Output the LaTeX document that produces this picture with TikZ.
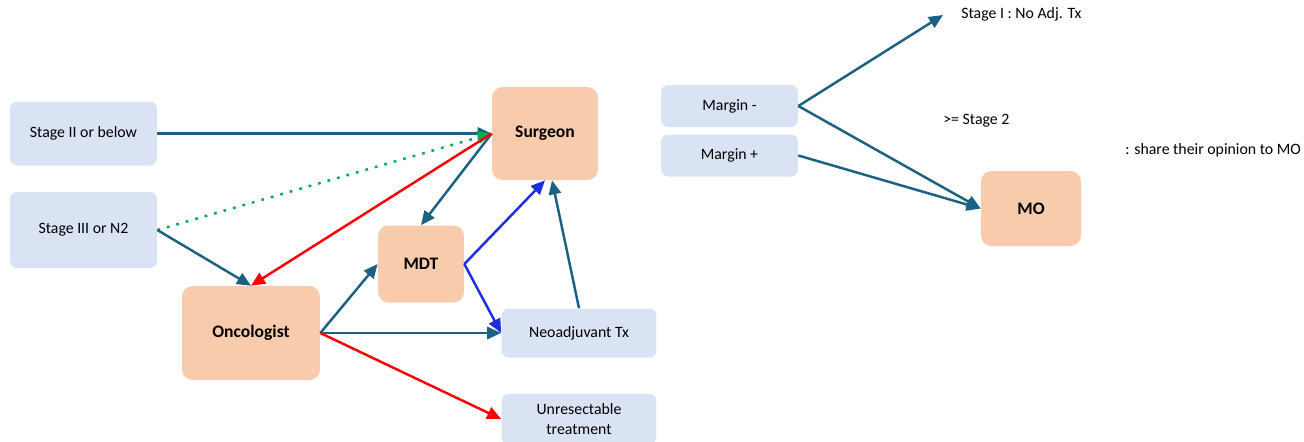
\documentclass[tikz,border=0pt]{standalone}
\usepackage{fontspec}
\setmainfont{Carlito}
\usepackage{tikz}
\usetikzlibrary{arrows.meta, positioning}
\definecolor{tealline}{HTML}{1B6183}
\definecolor{paleblue}{HTML}{DAE3F3}
\definecolor{peach}{HTML}{F8CBAD}
\definecolor{okgreen}{HTML}{00B050}
\definecolor{mdtblue}{HTML}{1C2FE0}
\tikzstyle{line} = [draw, -{Triangle[length=8pt,width=7pt]}, line width=1.4pt]
\tikzstyle{stage} = [rectangle, fill=paleblue, rounded corners=4pt,
  text centered, minimum width=2.94cm, minimum height=1.28cm, inner sep=2pt]
\tikzstyle{doctor} = [rectangle, fill=peach, rounded corners=6pt, font=\bfseries,
  text centered, minimum width=2cm, minimum height=1.5cm, inner sep=2pt]
\tikzstyle{note} = [anchor=west, inner sep=0pt]

\begin{document}
\begin{tikzpicture}[x=0.02cm, y=-0.02cm, font=\fontsize{9}{11}\selectfont]
    \useasboundingbox (0,0) rectangle (1304,441);

    % left part
    \node [stage] (stageII) at (83.5,133.5) {Stage II or below};
    \node [stage, minimum height=1.52cm] (stageIII) at (83.5,230) {Stage III or N2};
    \node [doctor, minimum width=2.12cm, minimum height=1.86cm] (surgeon) at (545,133.5) {Surgeon};
    \node [doctor, minimum width=1.72cm, minimum height=1.54cm] (mdt) at (421,264) {MDT};
    \node [doctor, minimum width=2.76cm, minimum height=1.88cm] (oncologist) at (251,333) {Oncologist};
    \node [stage, minimum width=3.1cm, minimum height=0.98cm] (neoadj) at (579,333) {Neoadjuvant Tx};
    \node [stage, minimum width=3.1cm, minimum height=1cm, align=center] (unresect) at (579,419) {Unresectable\\treatment};

    % right part
    \node [stage, minimum width=2.74cm, minimum height=0.84cm] (marginneg) at (729.5,106) {Margin -};
    \node [stage, minimum width=2.74cm, minimum height=0.84cm] (marginpos) at (729.5,155.5) {Margin +};
    \node [doctor] (mo) at (1031,208.5) {MO};
    \node [note] (stageInote) at (961,14) {Stage I : No Adj. Tx};
    \coordinate (stageItip) at (943,15);
    \node [note] (stagetwo) at (943,121) {>= Stage 2};
    \node [note] (opinion) at (1125,150) {: share their opinion to MO};

    \path [line, color=tealline] (stageII.east) -- (surgeon.west);
    \path [line, color=okgreen, dash pattern=on 1.6pt off 4pt] (stageIII.east) -- (surgeon.west);
    \path [line, color=tealline] (stageIII.east) -- (oncologist.north);
    \path [line, color=tealline] (surgeon.west) -- (mdt.north);
    \path [line, color=red] (surgeon.west) -- (oncologist.north);
    \path [line, color=tealline] (oncologist.east) -- (mdt.west);
    \path [line, color=tealline] (oncologist.east) -- (neoadj.west);
    \path [line, color=red] (oncologist.east) -- (unresect.west);
    \path [line, color=mdtblue] (mdt.east) -- (neoadj.west);
    \path [line, color=mdtblue] (mdt.east) -- (surgeon.south);
    \path [line, color=tealline] (neoadj.north) -- ([xshift=4pt]surgeon.south);

    \path [line, color=tealline] (marginneg.east) -- (stageItip);
    \path [line, color=tealline] (marginneg.east) -- (mo.west);
    \path [line, color=tealline] (marginpos.east) -- (mo.west);

  \end{tikzpicture}
\end{document}
